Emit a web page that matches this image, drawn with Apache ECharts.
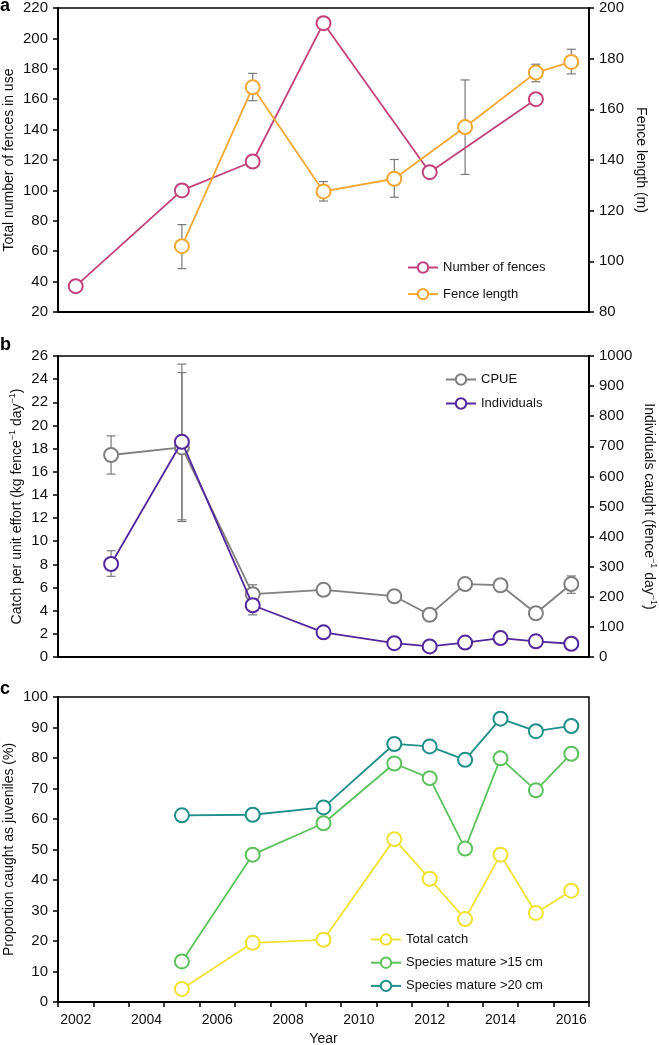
<!DOCTYPE html>
<html>
<head>
<meta charset="utf-8">
<script src="https://cdn.jsdelivr.net/npm/echarts@6.0.0/dist/echarts.min.js"></script>
<style>
  html, body { margin: 0; padding: 0; background: #fff; }
  #chart { width: 659px; height: 1045px; }
</style>
</head>
<body>
<div id="chart"></div>
<script>
// x categories (one per year, labels on even years)
var years = ['2002','2003','2004','2005','2006','2007','2008','2009','2010','2011','2012','2013','2014','2015','2016'];

// panel a
var fenceYears = ['2002','2005','2007','2009','2012','2015'];
var fenceCount = [37, 100, 119, 210, 112, 160];
var lengthYears = ['2005','2007','2009','2011','2013','2015','2016'];
var fenceLength = [106, 168.7, 127.6, 132.6, 153, 174.5, 178.7];
var lengthLo = [97.1, 163.4, 123.8, 125.3, 134.3, 170.9, 174];
var lengthHi = [114.5, 174.2, 131.5, 140.2, 171.6, 177.8, 183.7];

// panel b
var cpueYears = ['2003','2005','2007','2009','2011','2012','2013','2014','2015','2016'];
var cpue = [17.45, 18.1, 5.43, 5.8, 5.25, 3.65, 6.3, 6.2, 3.78, 6.3];
var cpueErrYears = ['2003','2005','2007','2016'];
var cpueLo = [15.8, 11.85, 4.6, 5.5];
var cpueHi = [19.1, 25.3, 6.24, 7.0];
var individuals = [309, 715, 172, 82, 46, 35, 48, 63, 52, 44];
var indErrYears = ['2003','2005','2007'];
var indLo = [268, 450, 140];
var indHi = [353, 945, 205];

// panel c
var juvYears = ['2005','2007','2009','2011','2012','2013','2014','2015','2016'];
var totalCatch = [4.3, 19.4, 20.4, 53.4, 40.4, 27.2, 48.3, 29.2, 36.5];
var mature15 = [13.3, 48.3, 58.6, 78.2, 73.4, 50.3, 79.9, 69.4, 81.4];
var mature20 = [61.2, 61.4, 63.8, 84.6, 83.8, 79.4, 92.9, 88.8, 90.5];

var FONT = 'Liberation Sans';

function pairs(xs, ys){
    var out = [];
    for (var i = 0; i < xs.length; i++) out.push([xs[i], ys[i]]);
    return out;
}
function triples(xs, lo, hi){
    var out = [];
    for (var i = 0; i < xs.length; i++) out.push([xs[i], lo[i], hi[i]]);
    return out;
}

function lineSeries(name, color, data, gi, yi, z){
    return {
        name: name,
        type: 'line',
        xAxisIndex: gi,
        yAxisIndex: yi,
        data: data,
        symbol: 'circle',
        symbolSize: 14,
        z: z || 3,
        lineStyle: { color: color, width: 1.8 },
        itemStyle: { color: '#fff', borderColor: color, borderWidth: 2 },
        emphasis: { disabled: true },
        animation: false
    };
}

// vertical error bar with caps
function errorBars(data, gi, yi){
    return {
        type: 'custom',
        xAxisIndex: gi,
        yAxisIndex: yi,
        data: data,
        encode: { x: 0, y: [1, 2] },
        z: 1,
        silent: true,
        animation: false,
        renderItem: function(params, api){
            var lo = api.coord([api.value(0), api.value(1)]);
            var hi = api.coord([api.value(0), api.value(2)]);
            var w = 4.5;
            var st = { stroke: '#7a7a7a', lineWidth: 1.2 };
            return {
                type: 'group',
                children: [
                    { type: 'line', shape: { x1: lo[0], y1: lo[1], x2: hi[0], y2: hi[1] }, style: st },
                    { type: 'line', shape: { x1: lo[0]-w, y1: lo[1], x2: lo[0]+w, y2: lo[1] }, style: st },
                    { type: 'line', shape: { x1: hi[0]-w, y1: hi[1], x2: hi[0]+w, y2: hi[1] }, style: st }
                ]
            };
        }
    };
}

function xAxis(gi, showLabels){
    return {
        type: 'category',
        gridIndex: gi,
        data: years,
        boundaryGap: true,
        axisLine: { lineStyle: { color: '#000', width: 2 } },
        axisTick: { show: showLabels, interval: 0, length: 5, lineStyle: { color: '#000', width: 1.5 } },
        axisLabel: { show: showLabels, interval: 1, color: '#111', fontSize: 14, fontFamily: FONT, margin: 11 },
        splitLine: { show: false },
        name: showLabels ? 'Year' : '',
        nameLocation: 'middle',
        nameGap: 30,
        nameMoveOverlap: false,
        nameTextStyle: { color: '#111', fontSize: 14, fontFamily: FONT }
    };
}

function yAxis(gi, pos, min, max, step, name, gap){
    return {
        type: 'value',
        gridIndex: gi,
        position: pos,
        min: min,
        max: max,
        interval: step,
        axisLine: { show: true, lineStyle: { color: '#000', width: 2 } },
        axisTick: { show: true, length: 5, lineStyle: { color: '#000', width: 1.5 } },
        axisLabel: {
            color: '#111', fontSize: 15, fontFamily: FONT, margin: 10,
            formatter: function(v){ return String(v); }
        },
        splitLine: { show: false },
        name: name,
        nameLocation: 'middle',
        nameRotate: pos === 'left' ? 90 : -90,
        nameGap: gap,
        nameMoveOverlap: false,
        nameTextStyle: {
            color: '#111', fontSize: 14, fontFamily: FONT,
            rich: {
                n: { fontSize: 14, fontFamily: FONT, color: '#111', lineHeight: 18 },
                s: { fontSize: 9, fontFamily: FONT, color: '#111', lineHeight: 18, padding: [0, 0, 9, 0] }
            }
        }
    };
}

function legend(names, left, top, gap){
    return {
        data: names,
        orient: 'vertical',
        left: left,
        top: top,
        padding: 0,
        itemWidth: 30,
        itemHeight: 13,
        itemGap: gap,
        selectedMode: false,
        textStyle: { color: '#111', fontSize: 13, fontFamily: FONT }
    };
}

function letter(t, x, y){
    return { type: 'text', left: x, top: y, style: { text: t, fill: '#000', font: 'bold 18px "Liberation Sans"' } };
}

function grid(top, height){
    return {
        left: 58, right: 70, top: top, height: height,
        containLabel: false, outerBoundsMode: 'none',
        show: true, borderColor: '#000', borderWidth: 1.5, backgroundColor: 'transparent'
    };
}

var myChart = echarts.init(document.getElementById('chart'), null, { renderer: 'canvas' });

var option = {
    backgroundColor: '#fff',
    animation: false,
    grid: [ grid(8, 304), grid(356, 301), grid(697, 305) ],
    xAxis: [ xAxis(0, false), xAxis(1, false), xAxis(2, true) ],
    yAxis: [
        yAxis(0, 'left', 20, 220, 20, 'Total number of fences in use', 42),
        yAxis(0, 'right', 80, 200, 20, 'Fence length (m)', 45),
        yAxis(1, 'left', 0, 26, 2, '{n|Catch per unit effort (kg fence}{s|−1}{n| day}{s|−1}{n|)}', 32),
        yAxis(1, 'right', 0, 1000, 100, '{n|Individuals caught (fence}{s|−1}{n| day}{s|−1}{n|)}', 51),
        yAxis(2, 'left', 0, 100, 10, 'Proportion caught as juveniles (%)', 42)
    ],
    legend: [
        legend(['Number of fences', 'Fence length'], 407, 261, 13.6),
        legend(['CPUE', 'Individuals'], 445, 373, 11),
        legend(['Total catch', 'Species mature >15 cm', 'Species mature >20 cm'], 370, 933, 10.2)
    ],
    graphic: [ letter('a', 0, -3), letter('b', 0, 336), letter('c', 0, 680) ],
    series: [
        errorBars(triples(lengthYears, lengthLo, lengthHi), 0, 1),
        lineSeries('Number of fences', '#c2417d', pairs(fenceYears, fenceCount), 0, 0, 3),
        lineSeries('Fence length', '#f5a733', pairs(lengthYears, fenceLength), 0, 1, 4),

        errorBars(triples(cpueErrYears, cpueLo, cpueHi), 1, 2),
        errorBars(triples(indErrYears, indLo, indHi), 1, 3),
        lineSeries('CPUE', '#7f7f7f', pairs(cpueYears, cpue), 1, 2, 3),
        lineSeries('Individuals', '#52279c', pairs(cpueYears, individuals), 1, 3, 4),

        lineSeries('Total catch', '#efe232', pairs(juvYears, totalCatch), 2, 4, 3),
        lineSeries('Species mature >15 cm', '#5cc25c', pairs(juvYears, mature15), 2, 4, 4),
        lineSeries('Species mature >20 cm', '#1f8f89', pairs(juvYears, mature20), 2, 4, 5)
    ]
};
myChart.setOption(option);
</script>
</body>
</html>
